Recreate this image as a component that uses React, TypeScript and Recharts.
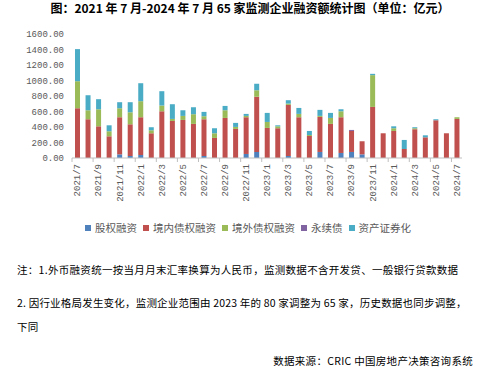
import React from 'react';
import { BarChart, Bar, XAxis, YAxis, Legend } from 'recharts';

const months = [
  '2021/7','2021/8','2021/9','2021/10','2021/11','2021/12',
  '2022/1','2022/2','2022/3','2022/4','2022/5','2022/6','2022/7','2022/8','2022/9','2022/10','2022/11','2022/12',
  '2023/1','2023/2','2023/3','2023/4','2023/5','2023/6','2023/7','2023/8','2023/9','2023/10','2023/11','2023/12',
  '2024/1','2024/2','2024/3','2024/4','2024/5','2024/6','2024/7',
];
const equity = [0,0,0,0,47,26,39,0,0,0,0,0,26,0,0,0,52,78,0,0,26,0,0,78,0,65,78,47,0,0,0,0,0,0,0,0,0];
const domesticDebt = [642,500,409,280,479,409,487,319,603,478,491,440,474,259,517,375,474,711,388,384,659,526,284,452,440,461,271,169,659,319,349,116,371,267,487,319,504];
const overseasDebt = [349,116,220,65,116,155,207,39,74,26,52,125,39,60,99,26,17,86,77,25,17,43,13,13,77,77,0,0,410,0,35,0,13,0,0,0,22];
const perpetual = [0,0,0,0,0,0,0,0,0,0,0,0,0,0,0,0,0,0,0,0,0,0,0,0,0,0,13,0,0,0,0,0,0,0,0,0,0];
const abs = [414,194,130,77,78,130,232,39,185,190,73,90,56,65,56,52,26,82,117,13,44,77,52,78,65,26,0,0,17,0,25,117,13,26,13,0,0];
const yTicks = [0,200,400,600,800,1000,1200,1400,1600];

const seriesNames = ['股权融资','境内债权融资','境外债权融资','永续债','资产证券化'];
const seriesKeys = ['equity','domestic','overseas','perpetual','abs'];
const seriesColors = ['#4F81BD','#C0504D','#9BBB59','#8064A2','#4BACC6'];

const data = months.map((m, i) => ({
  month: m,
  equity: equity[i],
  domestic: domesticDebt[i],
  overseas: overseasDebt[i],
  perpetual: perpetual[i],
  abs: abs[i],
}));

const CHART_W = 485;
const MARGIN_L = 0;
const Y_W = 72;
const MARGIN_R = 23;
const PLOT_W = CHART_W - MARGIN_L - Y_W - MARGIN_R;
const HALF_BAND = PLOT_W / months.length / 2;
const AXIS_FONT = '"Liberation Mono", "DejaVu Sans Mono", monospace';
const CJK_FONT = '"Noto Sans CJK SC", "Noto Sans", sans-serif';

const XTick = (props: any) => {
  const { x, y, payload } = props;
  return (
    <g>
      <line x1={x - HALF_BAND} y1={y} x2={x - HALF_BAND} y2={y + 4} stroke="#bfbfbf" />
      <text
        x={x}
        y={y + 6}
        transform={`rotate(-90, ${x}, ${y + 6})`}
        textAnchor="end"
        dy="0.35em"
        fontSize={9}
        fontFamily={AXIS_FONT}
        fill="#595959"
      >
        {payload.value}
      </text>
    </g>
  );
};

const LegendContent = () => (
  <div style={{ display: 'flex', alignItems: 'center', whiteSpace: 'nowrap', fontFamily: CJK_FONT, fontSize: 10.5, color: '#595959', lineHeight: '13px' }}>
    {seriesNames.map((n, i) => (
      <span key={n} style={{ display: 'inline-flex', alignItems: 'center', marginRight: 6 }}>
        <span style={{ display: 'inline-block', width: 6, height: 6, background: seriesColors[i], marginRight: 4 }} />
        <span>{n}</span>
      </span>
    ))}
  </div>
);

export default function App() {
  return (
    <div style={{ position: 'absolute', left: 0, top: 0, width: 485, height: 372, background: '#fff', overflow: 'hidden' }}>
      <div style={{ position: 'absolute', left: 15, top: 0, width: 470, textAlign: 'center', fontFamily: CJK_FONT, fontWeight: 700, fontSize: 12, lineHeight: '16px', color: '#000', whiteSpace: 'nowrap' }}>
        图：2021 年 7 月-2024 年 7 月 65 家监测企业融资额统计图（单位：亿元）
      </div>
      <div style={{ position: 'absolute', left: 0, top: 0 }}>
        <BarChart
          width={CHART_W}
          height={240}
          data={data}
          margin={{ top: 34, right: MARGIN_R, left: MARGIN_L, bottom: 0 }}
          barSize={5}
        >
          <XAxis
            dataKey="month"
            interval={1}
            height={82}
            tickSize={0}
            tickMargin={0}
            tickLine={false}
            axisLine={{ stroke: '#bfbfbf' }}
            tick={<XTick />}
          />
          <YAxis
            width={Y_W}
            domain={[0, 1600]}
            ticks={yTicks}
            axisLine={false}
            tickLine={false}
            tickFormatter={(v: number) => v.toFixed(2)}
            tick={{ fontSize: 9, fontFamily: AXIS_FONT, fill: '#595959' }}
          />
          {seriesKeys.map((k, i) => (
            <Bar key={k} dataKey={k} name={seriesNames[i]} stackId="a" fill={seriesColors[i]} isAnimationActive={false} />
          ))}
          <Legend
            layout="horizontal"
            verticalAlign="middle"
            align="center"
            wrapperStyle={{ top: 221, left: 85, width: 360 }}
            content={<LegendContent />}
          />
        </BarChart>
      </div>
      <div style={{ position: 'absolute', left: 17, top: 262, fontFamily: CJK_FONT, fontSize: 10.5, lineHeight: '16px', color: '#000', whiteSpace: 'nowrap', letterSpacing: 0.3 }}>
        注：1.外币融资统一按当月月末汇率换算为人民币，监测数据不含开发贷、一般银行贷款数据
      </div>
      <div style={{ position: 'absolute', left: 17, top: 295, fontFamily: CJK_FONT, fontSize: 10.5, lineHeight: '16px', color: '#000', whiteSpace: 'nowrap', letterSpacing: 0.2 }}>
        2. 因行业格局发生变化，监测企业范围由 2023 年的 80 家调整为 65 家，历史数据也同步调整，
      </div>
      <div style={{ position: 'absolute', left: 17, top: 319, fontFamily: CJK_FONT, fontSize: 10.5, lineHeight: '16px', color: '#000', whiteSpace: 'nowrap', letterSpacing: 0.3 }}>
        下同
      </div>
      <div style={{ position: 'absolute', right: 12, top: 353, fontFamily: CJK_FONT, fontSize: 10.5, lineHeight: '16px', color: '#000', whiteSpace: 'nowrap', letterSpacing: 0.3 }}>
        数据来源：CRIC 中国房地产决策咨询系统
      </div>
    </div>
  );
}
